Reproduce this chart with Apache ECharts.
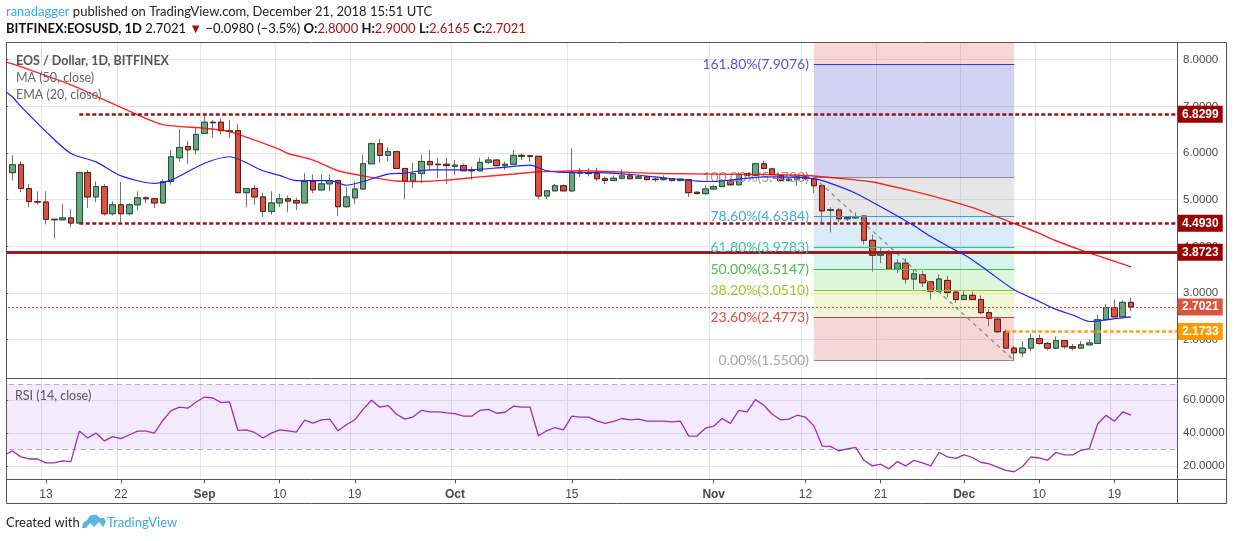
<!DOCTYPE html>
<html><head><meta charset="utf-8">
<script src="https://cdn.jsdelivr.net/npm/echarts@6/dist/echarts.min.js"></script>
<style>html,body{margin:0;padding:0;background:#fff;}#c{width:1234px;height:541px;}</style>
</head><body><div id="c"></div>
<script>
// ---------------- DATA ----------------
const dates = [
'08-08','08-09','08-10','08-11','08-12','08-13','08-14','08-15','08-16','08-17','08-18','08-19','08-20','08-21','08-22','08-23','08-24','08-25','08-26','08-27','08-28','08-29','08-30','08-31',
'09-01','09-02','09-03','09-04','09-05','09-06','09-07','09-08','09-09','09-10','09-11','09-12','09-13','09-14','09-15','09-16','09-17','09-18','09-19','09-20','09-21','09-22','09-23','09-24','09-25','09-26','09-27','09-28','09-29','09-30',
'10-01','10-02','10-03','10-04','10-05','10-06','10-07','10-08','10-09','10-10','10-11','10-12','10-13','10-14','10-15','10-16','10-17','10-18','10-19','10-20','10-21','10-22','10-23','10-24','10-25','10-26','10-27','10-28','10-29','10-30','10-31',
'11-01','11-02','11-03','11-04','11-05','11-06','11-07','11-08','11-09','11-10','11-11','11-12','11-13','11-14','11-15','11-16','11-17','11-18','11-19','11-20','11-21','11-22','11-23','11-24','11-25','11-26','11-27','11-28','11-29','11-30',
'12-01','12-02','12-03','12-04','12-05','12-06','12-07','12-08','12-09','12-10','12-11','12-12','12-13','12-14','12-15','12-16','12-17','12-18','12-19','12-20','12-21','12-22','12-23','12-24','12-25','12-26'
];
// [open, close, low, high]
const ohlc = [
[6.58,5.59,5.52,6.62],[5.58,5.75,5.41,5.95],[5.75,5.24,5.16,5.82],[5.24,4.96,4.84,5.34],[4.96,4.95,4.89,5.18],[4.95,4.58,4.47,5.18],[4.58,4.57,4.17,4.59],[4.57,4.61,4.56,4.91],[4.61,4.50,4.41,4.80],[4.50,5.58,4.50,5.60],[5.58,5.06,4.82,5.64],[5.06,5.28,4.95,5.39],[5.28,4.70,4.66,5.34],[4.70,4.89,4.66,4.96],[4.89,4.70,4.52,5.38],[4.70,4.89,4.66,4.93],[4.89,5.04,4.77,5.18],[5.04,5.02,4.93,5.07],[5.02,4.93,4.82,5.04],[4.93,5.39,4.91,5.44],[5.39,5.92,5.32,6.06],[5.90,6.12,5.81,6.51],[6.14,6.07,5.77,6.26],[6.07,6.40,5.97,6.54],
[6.42,6.66,6.42,6.84],[6.66,6.65,6.33,6.71],[6.66,6.48,6.40,6.74],[6.46,6.48,6.33,6.71],[6.48,5.15,5.15,6.62],[5.15,5.24,4.84,5.24],[5.24,5.06,4.89,5.32],[5.06,4.75,4.63,5.15],[4.75,4.93,4.68,5.18],[4.93,5.02,4.84,5.13],[5.02,4.97,4.73,5.09],[4.98,4.93,4.78,5.04],[4.93,5.39,4.93,5.57],[5.39,5.21,5.14,5.54],[5.21,5.34,5.18,5.54],[5.34,5.41,5.18,5.54],[5.41,4.85,4.65,5.43],[4.85,5.06,4.83,5.27],[5.04,5.23,4.91,5.39],[5.23,5.77,5.21,5.97],[5.77,6.20,5.77,6.23],[6.20,5.95,5.79,6.31],[5.95,6.03,5.83,6.13],[6.03,5.67,5.67,6.05],[5.67,5.40,5.01,5.67],[5.40,5.56,5.25,5.79],[5.56,5.82,5.36,5.97],[5.82,5.75,5.64,6.06],[5.76,5.75,5.46,5.90],[5.76,5.73,5.34,5.90],
[5.71,5.74,5.54,5.85],[5.73,5.62,5.62,5.77],[5.63,5.62,5.43,5.70],[5.62,5.80,5.61,5.90],[5.80,5.85,5.77,5.92],[5.85,5.73,5.72,5.87],[5.73,5.76,5.64,5.82],[5.76,5.95,5.75,6.06],[5.95,5.93,5.85,5.99],[5.94,5.93,5.81,5.96],[5.93,5.08,5.01,5.93],[5.08,5.19,5.01,5.19],[5.19,5.30,5.19,5.34],[5.30,5.19,5.19,5.33],[5.19,5.59,5.16,6.10],[5.59,5.57,5.49,5.68],[5.57,5.56,5.50,5.68],[5.56,5.45,5.40,5.69],[5.45,5.41,5.33,5.50],[5.41,5.46,5.40,5.52],[5.46,5.51,5.43,5.65],[5.51,5.45,5.45,5.57],[5.46,5.49,5.45,5.54],[5.49,5.43,5.41,5.52],[5.44,5.43,5.38,5.49],[5.43,5.46,5.41,5.52],[5.45,5.41,5.39,5.45],[5.41,5.44,5.40,5.45],[5.43,5.15,5.06,5.43],[5.16,5.13,5.13,5.18],[5.13,5.23,5.10,5.31],
[5.23,5.28,5.22,5.32],[5.28,5.41,5.27,5.44],[5.41,5.32,5.31,5.45],[5.32,5.54,5.31,5.59],[5.56,5.52,5.50,5.57],[5.52,5.77,5.51,5.79],[5.77,5.67,5.65,5.84],[5.66,5.54,5.52,5.69],[5.52,5.41,5.39,5.54],[5.41,5.44,5.39,5.49],[5.44,5.49,5.30,5.50],[5.49,5.45,5.41,5.50],[5.45,5.30,5.14,5.48],[5.30,4.76,4.48,5.30],[4.77,4.79,4.30,4.84],[4.78,4.59,4.52,4.82],[4.59,4.62,4.55,4.62],[4.61,4.64,4.59,4.73],[4.65,4.13,4.04,4.65],[4.13,3.81,3.46,4.25],[3.81,3.84,3.64,3.98],[3.84,3.51,3.51,3.92],[3.51,3.64,3.43,3.73],[3.64,3.30,3.20,3.74],[3.30,3.41,3.08,3.50],[3.39,3.22,3.13,3.47],[3.24,3.04,2.86,3.24],[3.04,3.30,3.01,3.40],[3.27,3.01,2.91,3.37],[3.02,2.86,2.79,3.07],
[2.86,2.95,2.85,3.04],[2.95,2.86,2.85,3.03],[2.86,2.58,2.54,2.95],[2.58,2.46,2.29,2.65],[2.44,2.17,2.15,2.46],[2.17,1.82,1.82,2.22],[1.82,1.72,1.55,1.86],[1.72,1.82,1.63,1.97],[1.82,2.02,1.75,2.13],[2.02,1.92,1.89,2.11],[1.92,1.82,1.77,1.95],[1.82,1.98,1.81,2.07],[1.98,1.85,1.81,1.99],[1.85,1.82,1.77,1.91],[1.82,1.89,1.81,1.97],[1.89,1.93,1.89,2.00],[1.92,2.43,1.92,2.54],[2.43,2.69,2.43,2.77],[2.69,2.49,2.49,2.86],[2.49,2.80,2.49,2.85],[2.80,2.7021,2.6165,2.90]
];
const ma50 = [['08-08',7.96],['08-09',7.91],['08-16',7.46],['08-20',7.14],['08-24',6.82],['08-27',6.61],['09-01',6.53],['09-04',6.46],['09-10',6.08],['09-11',5.99],['09-14',5.85],['09-17',5.62],['09-20',5.51],['09-24',5.40],['09-27',5.39],['09-30',5.42],['10-04',5.49],['10-08',5.55],['10-11',5.60],['10-14',5.61],['10-16',5.62],['10-26',5.56],['11-07',5.54],['11-12',5.52],['11-16',5.46],['11-20',5.38],['11-24',5.22],['11-28',5.04],['12-02',4.83],['12-07',4.49],['12-10',4.28],['12-12',4.12],['12-15',3.92],['12-18',3.74],['12-21',3.56]];
const ema20 = [['08-08',7.34],['08-09',7.20],['08-10',7.00],['08-13',6.46],['08-16',5.99],['08-19',5.81],['08-22',5.51],['08-26',5.35],['08-28',5.42],['09-01',5.78],['09-04',5.92],['09-08',5.62],['09-10',5.52],['09-12',5.41],['09-16',5.41],['09-18',5.31],['09-20',5.39],['09-23',5.55],['09-25',5.57],['09-28',5.64],['10-02',5.64],['10-06',5.68],['10-10',5.74],['10-12',5.62],['10-15',5.58],['10-18',5.58],['10-22',5.54],['10-26',5.47],['10-30',5.40],['11-01',5.39],['11-03',5.42],['11-07',5.49],['11-11',5.48],['11-13',5.45],['11-15',5.35],['11-18',5.14],['11-21',4.85],['11-23',4.65],['11-25',4.44],['11-27',4.21],['11-29',4.01],['12-01',3.82],['12-02',3.71],['12-04',3.45],['12-07',3.07],['12-10',2.82],['12-12',2.65],['12-14',2.53],['12-16',2.39],['12-17',2.40],['12-19',2.45],['12-21',2.49]];
const rsi = [26.5,
29.1,25.5,24.2,24.2,21.8,21.8,23.0,22.6,41.2,37.0,
40.0,35.2,37.8,36.6,39.0,41.2,41.2,40.0,47.7,53.7,
55.8,55.2,59.0,62.0,61.4,58.6,59.0,41.6,42.0,40.4,
37.0,40.0,42.0,41.4,40.6,47.9,46.1,48.1,48.5,41.4,
45.1,48.1,54.5,60.0,55.8,56.8,51.5,48.5,49.9,53.9,
52.9,52.9,52.3,51.9,50.3,50.3,53.9,54.5,52.1,52.7,
56.4,55.8,55.8,38.4,41.4,43.4,42.0,50.3,49.7,49.7,
47.5,45.9,47.1,48.9,48.1,48.5,47.3,47.3,47.3,46.9,
47.3,38.2,38.2,43.0,44.2,48.9,45.9,53.9,52.9,60.4,
57.0,51.5,48.1,48.5,50.9,49.7,44.4,32.1,31.9,29.1,
30.3,31.3,23.4,20.0,21.0,18.2,22.6,20.0,23.4,21.8,
20.0,28.3,25.5,24.6,26.7,25.1,22.2,21.2,19.2,17.2,
16.4,19.6,25.5,24.8,23.4,28.3,26.7,26.7,29.5,30.5,
45.5,50.9,47.3,52.9,50.9];
const priceTicks = [2,3,4,5,6,7,8];
const rsiTicks = [20,40,60];
const timeTicks = ['08-13','08-22','09-01','09-10','09-19','10-01','10-15','11-01','11-12','11-21','12-01','12-10','12-19'];
const monthNames = {'08':'Aug','09':'Sep','10':'Oct','11':'Nov','12':'Dec'};
const fibStart = '11-13', fibEnd = '12-07';
const fibLevels = [['161.80%',7.9076],['100.00%',5.4783],['78.60%',4.6384],['61.80%',3.9783],['50.00%',3.5147],['38.20%',3.0510],['23.60%',2.4773],['0.00%',1.5500]];
const levels = [
  {v:6.8299, start:'08-17'}, {v:4.4930, start:'08-17'}, {v:3.8723, start:null}, {v:2.7021, start:null}, {v:2.1733, start:'12-06'}
];

// ---------------- STYLES ----------------
const fibLineColor = ['#3535c8','#8a8a8a','#3f9ad8','#2cc4a3','#3dc83d','#8fc919','#d03a3a','#8a8a8a'];
const fibTextColor = ['#5656dc','#9a9a9a','#4aa6df','#3cc7a8','#46c346','#98c92a','#dd4b4b','#a6a6a6'];
const fibFill = ['rgba(210,50,50,0.2)','rgba(60,60,210,0.23)','rgba(128,128,128,0.2)','rgba(61,155,217,0.2)','rgba(46,199,166,0.2)','rgba(60,205,60,0.18)','rgba(160,205,20,0.17)','rgba(210,50,50,0.2)'];
const levelStyle = [
  {color:'#8e1515', width:2.6, type:[4,2.5], bg:'#990000'},
  {color:'#8e1515', width:2.6, type:[4,2.5], bg:'#990000'},
  {color:'#9e1c1c', width:2.8, type:'solid', bg:'#990000'},
  {color:'#e0453a', width:1, type:[2,2], bg:'#d9553f'},
  {color:'#ffa01e', width:2.6, type:[4,2.5], bg:'#ff9900'}
];

const N = dates.length;
const idx = d => d === null ? -0.5 : dates.indexOf(d);
const yMin = 1.19, yMax = 8.358;
const rMin = 11.8, rMax = 73.0;
const FONT = 'Lato, "Liberation Sans", sans-serif';
const gridColor = '#e6e6e6';

const tickSet = new Set(timeTicks);
const xFmt = v => { const [m,d] = v.split('-'); return d === '01' ? '{m|' + monthNames[m] + '}' : String(+d); };

const fibAreas = [];
fibAreas.push([{coord:[idx(fibStart), fibLevels[0][1]], itemStyle:{color:fibFill[0]}}, {coord:[idx(fibEnd), yMax]}]);
for (let k = 0; k < fibLevels.length - 1; k++) {
  fibAreas.push([{coord:[idx(fibStart), fibLevels[k+1][1]], itemStyle:{color:fibFill[k+1]}}, {coord:[idx(fibEnd), fibLevels[k][1]]}]);
}
const fibLines = fibLevels.map((f, k) => [
  {coord:[idx(fibStart), f[1]], lineStyle:{color:fibLineColor[k], width:1, type:'solid'},
   label:{show:true, position:'start', distance:5, formatter: f[0] + '(' + f[1].toFixed(4) + ')', color:fibTextColor[k], fontSize:14, fontFamily:FONT}},
  {coord:[idx(fibEnd), f[1]]}
]);
fibLines.push([
  {coord:[idx(fibStart), fibLevels[1][1]], lineStyle:{color:'#8c8c8c', width:1.3, type:[4,4]}, label:{show:false}},
  {coord:[idx(fibEnd), fibLevels[7][1]]}
]);

const levelLines = levels.map((L, k) => [
  {coord:[idx(L.start), L.v], lineStyle:{color:levelStyle[k].color, width:levelStyle[k].width, type:levelStyle[k].type, opacity:1},
   label:{show:true, position:'end', distance:1, formatter: L.v.toFixed(4), color:'#fff', fontWeight:'bold', fontSize:12, fontFamily:'"Liberation Sans", sans-serif',
          backgroundColor: levelStyle[k].bg, padding:[3,4,2,4]}},
  {coord:[N - 0.5, L.v]}
]);

const option = {
  animation: false,
  backgroundColor: '#ffffff',
  textStyle: {fontFamily: FONT},
  grid: [
    {left: 0, top: 43, width: 1177, height: 334.5},
    {left: 0, top: 379, width: 1177, height: 100.3}
  ],
  xAxis: [
    {type:'category', gridIndex:0, data:dates, boundaryGap:true,
     axisLine:{show:false}, axisTick:{show:false}, axisLabel:{show:false},
     splitLine:{show:true, interval:(i,v)=>tickSet.has(v), lineStyle:{color:gridColor}}},
    {type:'category', gridIndex:1, data:dates, boundaryGap:true, position:'bottom',
     axisLine:{show:false},
     axisTick:{show:true, alignWithLabel:true, interval:(i,v)=>tickSet.has(v), length:4, lineStyle:{color:'#555'}},
     axisLabel:{show:true, interval:(i,v)=>tickSet.has(v), formatter:xFmt, color:'#4a4a4a', fontSize:12, margin:9, fontFamily:'"Liberation Sans", sans-serif',
                rich:{m:{fontWeight:'bold', color:'#4a4a4a', fontSize:12, fontFamily:'"Liberation Sans", sans-serif'}}},
     splitLine:{show:true, interval:(i,v)=>tickSet.has(v), lineStyle:{color:gridColor}}},
    {type:'value', gridIndex:0, min:-0.5, max:N-0.5, show:false},
    {type:'value', gridIndex:1, min:-0.5, max:N-0.5, show:false}
  ],
  yAxis: [
    {type:'value', gridIndex:0, position:'right', min:yMin, max:yMax, scale:true,
     axisLine:{show:false},
     axisTick:{show:true, customValues:priceTicks, length:4, lineStyle:{color:'#555'}},
     axisLabel:{show:true, customValues:priceTicks, formatter:v=>v.toFixed(4), color:'#4a4a4a', fontSize:11.5, margin:6, fontFamily:'"Liberation Sans", sans-serif'},
     splitLine:{show:true, lineStyle:{color:gridColor}}},
    {type:'value', gridIndex:1, position:'right', min:rMin, max:rMax, scale:true,
     axisLine:{show:false},
     axisTick:{show:true, customValues:rsiTicks, length:4, lineStyle:{color:'#555'}},
     axisLabel:{show:true, customValues:rsiTicks, formatter:v=>v.toFixed(4), color:'#4a4a4a', fontSize:11.5, margin:6, fontFamily:'"Liberation Sans", sans-serif'},
     splitLine:{show:true, lineStyle:{color:gridColor}}}
  ],
  series: [
    {name:'fib', type:'line', xAxisIndex:2, yAxisIndex:0, data:[], silent:true, z:1,
     markArea:{silent:true, data:fibAreas},
     markLine:{silent:true, symbol:['none','none'], data:fibLines}},
    {name:'wicks', type:'candlestick', xAxisIndex:0, yAxisIndex:0, data:ohlc, barWidth:6, z:3, silent:true,
     itemStyle:{color:'#6ba583', color0:'#d75442', borderColor:'#737375', borderColor0:'#737375', borderWidth:1}},
    {name:'bodies', type:'candlestick', xAxisIndex:0, yAxisIndex:0, z:4, silent:true,
     data:ohlc.map(r=>[r[0], r[1], Math.min(r[0],r[1]), Math.max(r[0],r[1])]), barWidth:6,
     itemStyle:{color:'#6ba583', color0:'#d75442', borderColor:'#225437', borderColor0:'#5b1a13', borderWidth:1}},
    {name:'MA (50, close)', type:'line', xAxisIndex:0, yAxisIndex:0, data:ma50, symbol:'none', smooth:0.25, z:5,
     lineStyle:{color:'rgba(255,0,0,0.85)', width:1.4}},
    {name:'EMA (20, close)', type:'line', xAxisIndex:0, yAxisIndex:0, data:ema20, symbol:'none', smooth:0.25, z:5,
     lineStyle:{color:'#1f1fff', width:1.2}},
    {name:'levels', type:'line', xAxisIndex:2, yAxisIndex:0, data:[], silent:true, z:6,
     markLine:{silent:true, symbol:['none','none'], data:levelLines}},
    {name:'RSI', type:'line', xAxisIndex:1, yAxisIndex:1, data:rsi, symbol:'none', z:5,
     lineStyle:{color:'#9c2fb8', width:1.3},
     markArea:{silent:true, itemStyle:{color:'rgba(155,60,240,0.11)'}, data:[[{yAxis:30},{yAxis:70}]]},
     markLine:{silent:true, symbol:['none','none'], label:{show:false},
               lineStyle:{color:'#b4a9bd', type:[5,4], width:1}, data:[{yAxis:30},{yAxis:70}]}}
  ],
  graphic: [
    {type:'rect', z:50, shape:{x:0, y:40, width:6, height:445}, style:{fill:'#fff'}},
    {type:'polyline', z:60, shape:{points:[[6.5,42.5],[1226.5,42.5],[1226.5,503.5],[6.5,503.5],[6.5,42.5]]}, style:{stroke:'#555', lineWidth:1, fill:null}},
    {type:'line', z:60, shape:{x1:6.5, y1:378.5, x2:1226.5, y2:378.5}, style:{stroke:'#555', lineWidth:1}},
    {type:'line', z:60, shape:{x1:6.5, y1:479.5, x2:1226.5, y2:479.5}, style:{stroke:'#555', lineWidth:1}},
    {type:'line', z:60, shape:{x1:1177.5, y1:42.5, x2:1177.5, y2:503.5}, style:{stroke:'#555', lineWidth:1}},
    {type:'text', z:70, x:6, y:5, style:{text:'{a|ranadagger} published on TradingView.com, December 21, 2018 15:51 UTC',
      fontSize:13, fontFamily:FONT, fill:'#222', rich:{a:{fill:'#3aa9de', fontSize:13, fontFamily:FONT}}}},
    {type:'text', z:70, x:6, y:22, style:{
      text:'{b|BITFINEX:EOSUSD, 1D} {n|2.7021} {r|\u25BC} {n|\u22120.0980 (\u22123.5%)} {b|O:}{r|2.8000} {b|H:}{r|2.9000} {b|L:}{r|2.6165} {b|C:}{r|2.7021}',
      fontSize:13, fontFamily:FONT, fill:'#111',
      rich:{b:{fontWeight:'bold', fill:'#111', fontSize:13, fontFamily:FONT}, n:{fill:'#111', fontSize:13, fontFamily:FONT}, r:{fill:'#a31515', fontSize:13, fontFamily:FONT}}}},
    {type:'text', z:70, x:16, y:54, style:{text:'EOS / Dollar, 1D, BITFINEX', fontSize:12.5, fontWeight:'bold', fontFamily:FONT, fill:'#555'}},
    {type:'text', z:70, x:16, y:71, style:{text:'MA (50, close)', fontSize:12.5, fontFamily:FONT, fill:'#666'}},
    {type:'text', z:70, x:16, y:88, style:{text:'EMA (20, close)', fontSize:12.5, fontFamily:FONT, fill:'#666'}},
    {type:'text', z:70, x:15, y:389, style:{text:'RSI (14, close)', fontSize:12.5, fontFamily:FONT, fill:'#555'}},
    {type:'text', z:70, x:6, y:516, style:{text:'Created with', fontSize:13, fontFamily:FONT, fill:'#222'}},
    {type:'polygon', z:70, shape:{points:[[82,528],[83,523],[87,520],[90,515.5],[96,514.5],[100,518],[104,518],[106,522],[103,527],[99,522],[94,527],[90,523],[86,528]]}, style:{fill:'#5bb6e4'}},
    {type:'text', z:70, x:107, y:516, style:{text:'TradingView', fontSize:13, fontFamily:FONT, fill:'#3ea8de'}}
  ]
};
const chart = echarts.init(document.getElementById('c'));
chart.setOption(option);
</script>
</body></html>
